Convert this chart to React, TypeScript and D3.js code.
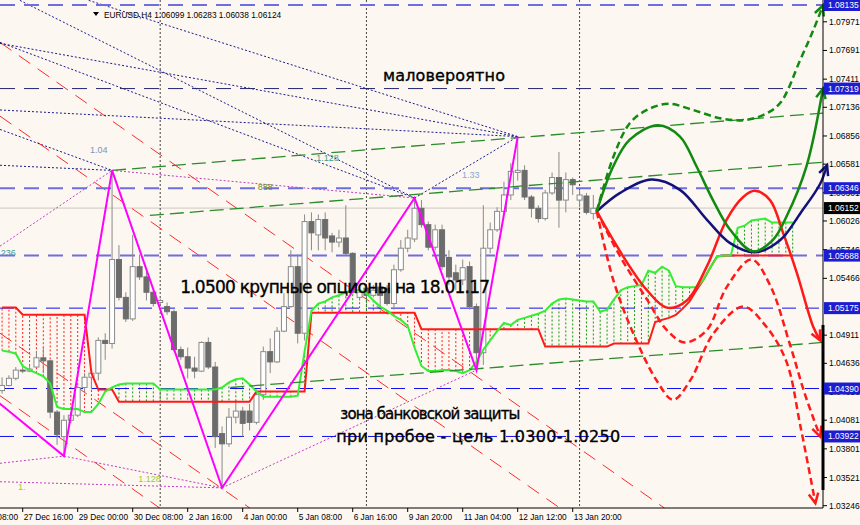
import React from 'react';
import * as d3 from 'd3';

const WIDTH = 860;
const HEIGHT = 525;
const PLOT_RIGHT = 823;
const PLOT_BOTTOM = 508;

// H4 bars, index 0 = 27 Dec 16:00, first visible bar is -3
const FIRST_BAR = -3;

// open, high, low, close
const ohlc: number[][] = [
  [1.0437, 1.0450, 1.0434, 1.0442], [1.0442, 1.0452, 1.0441, 1.0449], [1.0449, 1.0460, 1.0447, 1.0457],
  [1.0457, 1.0460, 1.0454, 1.0456], [1.0456, 1.0462, 1.0455, 1.0458], [1.0460, 1.0475, 1.0459, 1.0469],
  [1.0469, 1.0479, 1.0454, 1.0466], [1.0466, 1.0467, 1.0410, 1.0416], [1.0416, 1.0418, 1.0384, 1.0394],
  [1.0392, 1.0413, 1.0373, 1.0408], [1.0408, 1.0416, 1.0405, 1.0413], [1.0413, 1.0442, 1.0411, 1.0440],
  [1.0440, 1.0454, 1.0435, 1.0450], [1.0450, 1.0457, 1.0438, 1.0454], [1.0454, 1.0489, 1.0447, 1.0486],
  [1.0486, 1.0493, 1.0467, 1.0483], [1.0483, 1.0652, 1.0478, 1.0565], [1.0565, 1.0579, 1.0525, 1.0528],
  [1.0528, 1.0533, 1.0504, 1.0507], [1.0507, 1.0589, 1.0505, 1.0558], [1.0558, 1.0570, 1.0545, 1.0548],
  [1.0548, 1.0555, 1.0525, 1.0533], [1.0533, 1.0535, 1.0519, 1.0522], [1.0523, 1.0527, 1.0521, 1.0525],
  [1.0519, 1.0523, 1.0511, 1.0514], [1.0514, 1.0516, 1.0475, 1.0477], [1.0477, 1.0480, 1.0467, 1.0470],
  [1.0470, 1.0479, 1.0449, 1.0459], [1.0459, 1.0470, 1.0449, 1.0456], [1.0456, 1.0485, 1.0455, 1.0484],
  [1.0484, 1.0489, 1.0458, 1.0460], [1.0460, 1.0465, 1.0381, 1.0392], [1.0395, 1.0402, 1.0342, 1.0385],
  [1.0385, 1.0420, 1.0382, 1.0411], [1.0411, 1.0428, 1.0405, 1.0417], [1.0417, 1.0421, 1.0392, 1.0405],
  [1.0417, 1.0424, 1.0398, 1.0406], [1.0406, 1.0438, 1.0404, 1.0433], [1.0433, 1.0480, 1.0428, 1.0475],
  [1.0475, 1.0488, 1.0454, 1.0465], [1.0465, 1.0499, 1.0464, 1.0495], [1.0495, 1.0532, 1.0494, 1.0519],
  [1.0519, 1.0574, 1.0518, 1.0558], [1.0558, 1.0570, 1.0483, 1.0493], [1.0493, 1.0609, 1.0486, 1.0602],
  [1.0602, 1.0611, 1.0574, 1.0591], [1.0589, 1.0609, 1.0574, 1.0604], [1.0604, 1.0611, 1.0574, 1.0586],
  [1.0588, 1.0591, 1.0572, 1.0582], [1.0582, 1.0594, 1.0577, 1.0586], [1.0586, 1.0618, 1.0569, 1.0571],
  [1.0571, 1.0572, 1.0532, 1.0533], [1.0528, 1.0538, 1.0525, 1.0533], [1.0537, 1.0539, 1.0528, 1.0530],
  [1.0530, 1.0540, 1.0528, 1.0535], [1.0538, 1.0543, 1.0518, 1.0530], [1.0537, 1.0540, 1.0520, 1.0522],
  [1.0522, 1.0560, 1.0516, 1.0555], [1.0555, 1.0584, 1.0553, 1.0576], [1.0576, 1.0594, 1.0572, 1.0586],
  [1.0585, 1.0625, 1.0582, 1.0615], [1.0615, 1.0623, 1.0596, 1.0599], [1.0599, 1.0602, 1.0574, 1.0577],
  [1.0577, 1.0599, 1.0574, 1.0594], [1.0594, 1.0599, 1.0555, 1.0558], [1.0567, 1.0574, 1.0540, 1.0548],
  [1.0552, 1.0560, 1.0535, 1.0545], [1.0545, 1.0565, 1.0540, 1.0557], [1.0558, 1.0563, 1.0516, 1.0519],
  [1.0519, 1.0522, 1.0457, 1.0474], [1.0474, 1.0618, 1.0462, 1.0576], [1.0576, 1.0601, 1.0571, 1.0594],
  [1.0594, 1.0616, 1.0592, 1.0612], [1.0612, 1.0641, 1.0611, 1.0628], [1.0628, 1.0659, 1.0623, 1.0651],
  [1.0650, 1.0685, 1.0642, 1.0652], [1.0652, 1.0657, 1.0623, 1.0626], [1.0626, 1.0628, 1.0606, 1.0615],
  [1.0615, 1.0618, 1.0601, 1.0605], [1.0605, 1.0633, 1.0603, 1.0630], [1.0630, 1.0650, 1.0628, 1.0645],
  [1.0645, 1.0670, 1.0596, 1.0623], [1.0623, 1.0650, 1.0611, 1.0643], [1.0643, 1.0645, 1.0628, 1.0638],
  [1.0623, 1.0633, 1.0616, 1.0628], [1.0627, 1.0630, 1.0609, 1.0611], [1.0610, 1.0628, 1.0604, 1.0615],
];

// Ichimoku cloud, bars -3 .. 112
const senkouA: number[] = [
  1.0476, 1.0475, 1.0473, 1.0461, 1.0457, 1.0454, 1.0451, 1.0444, 1.0421, 1.0419,
  1.0419, 1.0419, 1.0416, 1.0416, 1.0424, 1.0436, 1.0440, 1.0443, 1.0444, 1.0444,
  1.0444, 1.0444, 1.0444, 1.0438, 1.0438, 1.0438, 1.0438, 1.0438, 1.0438, 1.0438,
  1.0438, 1.0438, 1.0440, 1.0445, 1.0448, 1.0449, 1.0443, 1.0436, 1.0431, 1.0431,
  1.0431, 1.0431, 1.0431, 1.0432, 1.0475, 1.0515, 1.0522, 1.0524, 1.0528, 1.0530,
  1.0533, 1.0535, 1.0535, 1.0532, 1.0525, 1.0519, 1.0515, 1.0510, 1.0506, 1.0500,
  1.0479, 1.0461, 1.0456, 1.0456, 1.0457, 1.0457, 1.0456, 1.0454, 1.0457, 1.0465,
  1.0477, 1.0486, 1.0495, 1.0503, 1.0501, 1.0506, 1.0508, 1.0510, 1.0512, 1.0515,
  1.0522, 1.0526, 1.0527, 1.0526, 1.0525, 1.0524, 1.0524, 1.0514, 1.0516, 1.0526,
  1.0535, 1.0538, 1.0539, 1.0540, 1.0554, 1.0552, 1.0558, 1.0554, 1.0539, 1.0538,
  1.0538, 1.0538, 1.0545, 1.0557, 1.0568, 1.0569, 1.0569, 1.0596, 1.0598, 1.0603,
  1.0604, 1.0605, 1.0601, 1.0601, 1.0601, 1.0601,
];

const senkouB: number[] = [
  1.0518, 1.0518, 1.0518, 1.0511, 1.0511, 1.0511, 1.0511, 1.0511, 1.0511, 1.0511,
  1.0511, 1.0511, 1.0511, 1.0454, 1.0438, 1.0438, 1.0438, 1.0426, 1.0426, 1.0426,
  1.0426, 1.0426, 1.0426, 1.0426, 1.0426, 1.0426, 1.0426, 1.0426, 1.0426, 1.0426,
  1.0426, 1.0426, 1.0426, 1.0426, 1.0426, 1.0426, 1.0426, 1.0436, 1.0436, 1.0436,
  1.0436, 1.0436, 1.0436, 1.0436, 1.0436, 1.0513, 1.0513, 1.0513, 1.0513, 1.0513,
  1.0513, 1.0513, 1.0513, 1.0513, 1.0513, 1.0513, 1.0513, 1.0513, 1.0513, 1.0513,
  1.0513, 1.0497, 1.0497, 1.0497, 1.0497, 1.0497, 1.0497, 1.0497, 1.0497, 1.0497,
  1.0497, 1.0497, 1.0497, 1.0497, 1.0497, 1.0497, 1.0497, 1.0497, 1.0497, 1.0480,
  1.0480, 1.0480, 1.0480, 1.0480, 1.0480, 1.0480, 1.0480, 1.0480, 1.0480, 1.0483,
  1.0483, 1.0483, 1.0483, 1.0483, 1.0483, 1.0504, 1.0506, 1.0508, 1.0511, 1.0517,
  1.0524, 1.0535, 1.0545, 1.0557, 1.0568, 1.0569, 1.0569, 1.0569, 1.0569, 1.0569,
  1.0569, 1.0569, 1.0569, 1.0569, 1.0569, 1.0569,
];

// zigzag pivots [bar, price]
const zigzag: [number, number][] = [
  [-12, 1.0472], [6, 1.0373], [13, 1.0652], [29, 1.0342], [57, 1.0625], [66, 1.0457], [72, 1.0685],
];

// hand drawn forecast paths [bar, price]
const fcGreen: [number, number][] = [
  [83.5, 1.0612], [85.9, 1.0656], [88.3, 1.0682], [92.4, 1.0696], [95.6, 1.0685], [98.0, 1.0656],
  [100.4, 1.0623], [102.9, 1.0594], [106.2, 1.0573], [109.1, 1.0584], [111.1, 1.0607], [114.0, 1.0656],
  [116.4, 1.0732],
];
const fcGreenDash: [number, number][] = [
  [83.5, 1.0612], [85.9, 1.0665], [88.3, 1.0698], [90.8, 1.0711], [93.9, 1.0717], [97.5, 1.0711],
  [101.4, 1.0703], [104.8, 1.0701], [107.7, 1.0706], [110.2, 1.0718], [113.1, 1.0760], [115.0, 1.0789],
  [116.4, 1.0813],
];
const fcNavy: [number, number][] = [
  [83.5, 1.0612], [86.9, 1.0630], [91.5, 1.0643], [95.6, 1.0633], [99.5, 1.0604], [102.9, 1.0581],
  [106.5, 1.0572], [110.2, 1.0584], [113.1, 1.0610], [116.0, 1.0639], [117.0, 1.0657],
];
const fcRed: [number, number][] = [
  [83.5, 1.0612], [85.9, 1.0584], [88.3, 1.0558], [90.8, 1.0535], [93.7, 1.0518], [96.6, 1.0525],
  [99.5, 1.0558], [102.4, 1.0604], [104.8, 1.0626], [106.5, 1.0632], [108.7, 1.0623], [110.6, 1.0591],
  [112.6, 1.0552], [115.0, 1.0499], [116.0, 1.0486],
];
const fcRedDashA: [number, number][] = [
  [83.5, 1.0612], [86.9, 1.0568], [90.8, 1.0526], [93.7, 1.0496], [96.3, 1.0484], [99.5, 1.0496],
  [102.4, 1.0538], [106.0, 1.0565], [108.7, 1.0540], [111.6, 1.0482], [113.8, 1.0433], [116.0, 1.0392],
];
const fcRedDashB: [number, number][] = [
  [83.5, 1.0612], [85.9, 1.0545], [88.8, 1.0493], [92.2, 1.0447], [94.6, 1.0428], [97.1, 1.0447],
  [100.5, 1.0493], [104.8, 1.0519], [108.2, 1.0499], [111.1, 1.0465], [113.1, 1.0403], [115.3, 1.0327],
];

// trend objects: [bar1, price1, bar2, price2]
const redFan: number[][] = [
  [-3.3, 1.0777, 93.4, 1.0322], [-3.3, 1.0705, 78.2, 1.0322],
  [-3.3, 1.0493, 33.1, 1.0322], [-3.3, 1.0432, 20.0, 1.0322],
];
const navyRays: number[][] = [
  [-3.3, 1.0776, 72, 1.0685], [9.6, 1.0818, 72, 1.0685], [-3.3, 1.0711, 72, 1.0685], [57, 1.0625, 72, 1.0685],
  [-3.3, 1.0777, 57, 1.0625], [-0.4, 1.0818, 57, 1.0625], [-3.3, 1.0657, 13, 1.0652], [-3.3, 1.0692, 13, 1.0652],
];
const pinkRays: number[][] = [
  [-3.3, 1.0578, 13, 1.0652], [13, 1.0652, 57, 1.0625], [29, 1.0342, 66, 1.0457],
  [-3.3, 1.0348, 29, 1.0342], [-3.3, 1.0366, 6, 1.0373], [6, 1.0373, 29, 1.0342],
];
const channel: number[][] = [
  [13, 1.0652, 116.4, 1.0708], [18.5, 1.0608, 116.4, 1.0660], [30.2, 1.0440, 116.4, 1.0484],
];

const levelPrices = [1.08135, 1.07319, 1.06346, 1.05688, 1.05175, 1.0439, 1.03922];
const levelKind = ['wide', 'dark', 'wide', 'wide', 'thin', 'thin', 'thin'];
const lastPrice = 1.06152;

const priceTicks = [
  1.07971, 1.07691, 1.07411, 1.07136, 1.06856, 1.06581, 1.06301, 1.06026, 1.05746,
  1.05466, 1.04911, 1.04636, 1.04356, 1.04081, 1.03801, 1.03521, 1.03246,
];

const dateTicks: [number, string][] = [
  [-8, '26 Dec 08:00'], [0, '27 Dec 16:00'], [8, '29 Dec 00:00'], [16, '30 Dec 08:00'],
  [24, '2 Jan 16:00'], [32, '4 Jan 00:00'], [40, '5 Jan 08:00'], [48, '6 Jan 16:00'],
  [56, '9 Jan 20:00'], [64, '11 Jan 04:00'], [72, '12 Jan 12:00'], [80, '13 Jan 20:00'],
];
const weekSeparators = [20, 50, 81];

const ratioLabels: [string, number, number, string][] = [
  ['1.04', 9.8, 1.0669, '#7b93b8'], ['1.128', 42.7, 1.0661, '#3f9c88'], ['888', 34.2, 1.0633, '#6b8e23'],
  ['1.33', 63.9, 1.0645, '#86a8cf'], ['0.236', -4.3, 1.0568, '#3a9a9a'], ['1.128', 16.8, 1.0348, '#9acd32'],
  ['1.', -0.7, 1.034, '#9acd32'],
];

const FONT = "'Liberation Sans', Arial, sans-serif";
const TEXT_FONT = "'DejaVu Sans', sans-serif";

export default function App() {
  const x = d3.scaleLinear().domain([-3.302, 116.407]).range([0, PLOT_RIGHT]);
  const y = d3.scaleLinear().domain([1.032234, 1.081838]).range([PLOT_BOTTOM, 0]);

  const bars = ohlc.map((d, k) => ({ i: FIRST_BAR + k, o: d[0], h: d[1], l: d[2], c: d[3] }));
  const cloud = senkouA.map((a, k) => ({ i: FIRST_BAR + k, a, b: senkouB[k] }));

  const lineA = d3.line<{ i: number; a: number }>().x(d => x(d.i)).y(d => y(d.a));
  const lineB = d3.line<{ i: number; b: number }>().x(d => x(d.i)).y(d => y(d.b));
  const straight = d3.line<[number, number]>().x(d => x(d[0])).y(d => y(d[1]));
  const smooth = d3.line<[number, number]>().x(d => x(d[0])).y(d => y(d[1])).curve(d3.curveCatmullRom.alpha(0.5));

  const seg = (s: number[]) => ({ x1: x(s[0]), y1: y(s[1]), x2: x(s[2]), y2: y(s[3]) });

  // open V arrow at the end of a path
  const arrowHead = (pts: [number, number][]) => {
    const n = pts.length;
    const x1 = x(pts[n - 1][0]), y1 = y(pts[n - 1][1]);
    const x0 = x(pts[n - 2][0]), y0 = y(pts[n - 2][1]);
    const ang = Math.atan2(y1 - y0, x1 - x0);
    const len = 11, spread = 0.45;
    const a1 = ang + Math.PI - spread, a2 = ang + Math.PI + spread;
    return `M${x1 + len * Math.cos(a1)},${y1 + len * Math.sin(a1)}L${x1},${y1}L${x1 + len * Math.cos(a2)},${y1 + len * Math.sin(a2)}`;
  };

  const forecasts: { pts: [number, number][]; color: string; dash?: string }[] = [
    { pts: fcRedDashB, color: '#ff1a1a', dash: '7 4' },
    { pts: fcRedDashA, color: '#ff1a1a', dash: '7 4' },
    { pts: fcRed, color: '#ff1a1a' },
    { pts: fcNavy, color: '#12127a' },
    { pts: fcGreenDash, color: '#108a10', dash: '7 4' },
    { pts: fcGreen, color: '#108a10' },
  ];

  const levelStyle: Record<string, { stroke: string; width: number; dash: string }> = {
    wide: { stroke: '#6e6ee0', width: 2, dash: '15 9' },
    dark: { stroke: '#24246e', width: 1, dash: '15 9' },
    thin: { stroke: '#1010f0', width: 1, dash: '14 9' },
  };

  const noteStyle = { fontFamily: TEXT_FONT, fill: '#000', stroke: '#000', strokeWidth: 0.35 };

  return (
    <svg width={WIDTH} height={HEIGHT} style={{ position: 'absolute', left: 0, top: 0, background: '#fdf7f1' }}>
      <defs>
        <clipPath id="plot">
          <rect x={0} y={0} width={PLOT_RIGHT} height={PLOT_BOTTOM} />
        </clipPath>
      </defs>
      <rect x={0} y={0} width={WIDTH} height={HEIGHT} fill="#fdf7f1" />

      <g clipPath="url(#plot)">
        {/* bid line */}
        <line x1={0} x2={PLOT_RIGHT} y1={y(lastPrice)} y2={y(lastPrice)} stroke="#cfc6c0" />

        {/* week separators */}
        {weekSeparators.map(b => (
          <line key={b} x1={x(b)} x2={x(b)} y1={0} y2={PLOT_BOTTOM} stroke="#444" strokeDasharray="2 2" />
        ))}

        {/* cloud hatch */}
        {cloud.map(d => (
          <line key={d.i} x1={x(d.i)} x2={x(d.i)} y1={y(d.a)} y2={y(d.b)}
            stroke={d.a >= d.b ? '#129a12' : '#ff2020'} strokeDasharray="2 2" />
        ))}

        {/* red parallel lines */}
        {redFan.map((s, k) => (
          <line key={k} {...seg(s)} stroke="#ff2a2a" strokeDasharray="14 9" />
        ))}

        {/* harmonic ratio rays */}
        {navyRays.map((s, k) => (
          <line key={k} {...seg(s)} stroke="#1c1c8c" strokeDasharray="2 2" />
        ))}
        {pinkRays.map((s, k) => (
          <line key={k} {...seg(s)} stroke="#c23cc2" strokeDasharray="2 2" />
        ))}

        {/* horizontal levels */}
        {levelPrices.map((p, k) => {
          const st = levelStyle[levelKind[k]];
          return (
            <line key={p} x1={0} x2={PLOT_RIGHT} y1={y(p)} y2={y(p)}
              stroke={st.stroke} strokeWidth={st.width} strokeDasharray={st.dash} />
          );
        })}

        {/* candles */}
        {bars.map(d => {
          const bull = d.c >= d.o;
          const top = y(Math.max(d.o, d.c));
          const bot = y(Math.min(d.o, d.c));
          return (
            <g key={d.i}>
              <line x1={x(d.i)} x2={x(d.i)} y1={y(d.h)} y2={y(d.l)} stroke="#8a8a8a" />
              <rect x={x(d.i) - 2.5} y={top} width={5} height={Math.max(bot - top, 1)}
                fill={bull ? '#ffffff' : '#6c6c6c'} stroke={bull ? '#8a8a8a' : '#6c6c6c'} />
            </g>
          );
        })}

        {/* cloud borders */}
        <path d={lineB(cloud) || ''} fill="none" stroke="#ff1a1a" strokeWidth={2} />
        <path d={lineA(cloud) || ''} fill="none" stroke="#33ee33" strokeWidth={2} />

        {/* channel */}
        {channel.map((s, k) => (
          <line key={k} {...seg(s)} stroke="#2a8c2a" strokeWidth={1.3} strokeDasharray="14 6" />
        ))}

        {/* zigzag */}
        <path d={straight(zigzag) || ''} fill="none" stroke="#ff00ff" strokeWidth={2} />

        {/* ratio labels */}
        {ratioLabels.map(([t, b, p, c], k) => (
          <text key={k} x={x(b)} y={y(p)} fontFamily={FONT} fontSize={9} fill={c}>{t}</text>
        ))}
      </g>

      {/* forecast paths */}
      {forecasts.map((f, k) => (
        <g key={k}>
          <path d={smooth(f.pts) || ''} fill="none" stroke={f.color} strokeWidth={2.5} strokeDasharray={f.dash} />
          <path d={arrowHead(f.pts)} fill="none" stroke={f.color} strokeWidth={2.5} />
        </g>
      ))}

      {/* annotations */}
      <text x={x(52.4)} y={y(1.0739)} fontSize={16} textLength={122} {...noteStyle}>маловероятно</text>
      <text x={x(22.9)} y={y(1.0532)} fontSize={17} textLength={310} {...noteStyle}>1.0500 крупные опционы на 18.01.17</text>
      <text x={x(46.2)} y={y(1.0409)} fontSize={15} textLength={180} {...noteStyle}>зона банковской защиты</text>
      <text x={x(45.6)} y={y(1.0387)} fontSize={16} textLength={284} {...noteStyle}>при пробое - цель 1.0300-1.0250</text>

      {/* header */}
      <path d="M93,12 L99,12 L96,16 Z" fill="#000" />
      <text x={104} y={18} fontFamily={FONT} fontSize={8.3} fill="#000">EURUSD,H4  1.06099 1.06283 1.06038 1.06124</text>

      {/* price axis */}
      <line x1={PLOT_RIGHT} x2={PLOT_RIGHT} y1={0} y2={PLOT_BOTTOM} stroke="#000" />
      <line x1={PLOT_RIGHT} x2={PLOT_RIGHT} y1={325} y2={490} stroke="#000" strokeWidth={3} />
      {priceTicks.map(p => (
        <g key={p}>
          <line x1={PLOT_RIGHT} x2={PLOT_RIGHT + 4} y1={y(p)} y2={y(p)} stroke="#000" />
          <text x={PLOT_RIGHT + 6} y={y(p) + 3} fontFamily={FONT} fontSize={8.5} fill="#000">{p.toFixed(5)}</text>
        </g>
      ))}
      {levelPrices.map(p => (
        <g key={p}>
          <rect x={PLOT_RIGHT + 1} y={y(p) - 6} width={37} height={12} fill="#1c1cd0" />
          <text x={PLOT_RIGHT + 5} y={y(p) + 3} fontFamily={FONT} fontSize={8.5} fill="#fff">{p.toFixed(5)}</text>
        </g>
      ))}
      <rect x={PLOT_RIGHT + 1} y={y(lastPrice) - 6} width={37} height={12} fill="#000" />
      <text x={PLOT_RIGHT + 5} y={y(lastPrice) + 3} fontFamily={FONT} fontSize={8.5} fill="#fff">{lastPrice.toFixed(5)}</text>

      {/* time axis */}
      <line x1={0} x2={PLOT_RIGHT} y1={PLOT_BOTTOM} y2={PLOT_BOTTOM} stroke="#000" />
      {dateTicks.map(([b, t]) => (
        <g key={t}>
          <line x1={x(b)} x2={x(b)} y1={PLOT_BOTTOM} y2={PLOT_BOTTOM + 4} stroke="#000" />
          <text x={x(b) + 1} y={PLOT_BOTTOM + 12} fontFamily={FONT} fontSize={8.3} fill="#000">{t}</text>
        </g>
      ))}
    </svg>
  );
}
